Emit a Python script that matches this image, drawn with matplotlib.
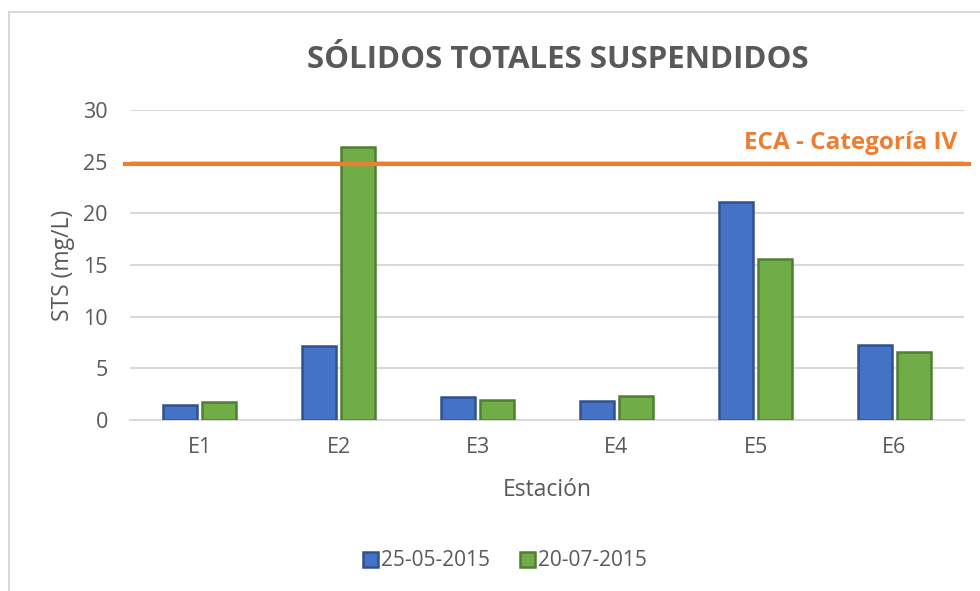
import matplotlib
matplotlib.use("Agg")
import matplotlib.pyplot as plt
import numpy as np
from matplotlib.patches import Rectangle

categories = ["E1", "E2", "E3", "E4", "E5", "E6"]
series_names = ["25-05-2015", "20-07-2015"]
values_may = [1.5, 7.2, 2.2, 1.85, 21.1, 7.25]
values_jul = [1.7, 26.45, 1.95, 2.3, 15.6, 6.6]
eca_value = 24.75
eca_label = "ECA - Categoría IV"
yticks = [0, 5, 10, 15, 20, 25, 30]

plt.rcParams['font.family'] = ['Open Sans', 'DejaVu Sans']
gray = "#595959"

fig = plt.figure(figsize=(9.8, 5.91), dpi=100)
fig.patch.set_facecolor("white")
# outer chart border
fig.patches.append(Rectangle((9/980, -0.05), 1.1, 1 - 12/591 + 0.05,
                             transform=fig.transFigure, fill=False,
                             edgecolor="#d9d9d9", lw=1.5))

ax = fig.add_axes([130/980, 1 - 420/591, (964 - 130)/980, (420 - 110)/591])
x = np.arange(len(categories))
w = 0.245
gap = 0.02
ax.bar(x - w/2 - gap, values_may, w, color="#4472C4", edgecolor="#2F528F", lw=1.8,
       label=series_names[0], zorder=3)
ax.bar(x + w/2 + gap, values_jul, w, color="#70AD47", edgecolor="#507E32", lw=1.8,
       label=series_names[1], zorder=3)

ax.set_xlim(-0.5, len(categories) - 0.5)
ax.set_ylim(0, 30)
ax.set_yticks(yticks)
ax.set_xticks(x)
ax.set_xticklabels(categories)
ax.tick_params(axis="both", length=0, labelsize=15.5, colors=gray)
ax.tick_params(axis="y", pad=16)
ax.tick_params(axis="x", pad=12)
ax.yaxis.grid(True, color="#d9d9d9", lw=1.5, zorder=0)
for s in ["top", "right", "left"]:
    ax.spines[s].set_visible(False)
ax.spines["bottom"].set_color("#d9d9d9")
ax.spines["bottom"].set_linewidth(1.5)

ax.set_ylabel("STS (mg/L)", fontsize=16.5, color=gray, labelpad=6)
ax.set_xlabel("Estación", fontsize=16.5, color=gray, labelpad=15)

# ECA line
ax.axhline(eca_value, xmin=-0.006, xmax=1.006, color="#ED7D31", lw=3, zorder=4,
           clip_on=False)
ax.text(957/980, 1 - 143/591, eca_label, transform=fig.transFigure,
        ha="right", va="center", color="#ED7D31", fontsize=17.5, fontweight="bold")

fig.text(558/980, 1 - 60/591, "SÓLIDOS TOTALES SUSPENDIDOS", ha="center", va="center",
         fontsize=22.5, fontweight="bold", color=gray)

leg = fig.legend(loc="center", bbox_to_anchor=(505/980, 1 - 561/591), ncol=2,
                 frameon=False, fontsize=15, handlelength=0.75, handleheight=0.75,
                 handletextpad=0.15, columnspacing=1.4)
for t in leg.get_texts():
    t.set_color(gray)

fig.savefig("out.png", dpi=100, facecolor="white")
